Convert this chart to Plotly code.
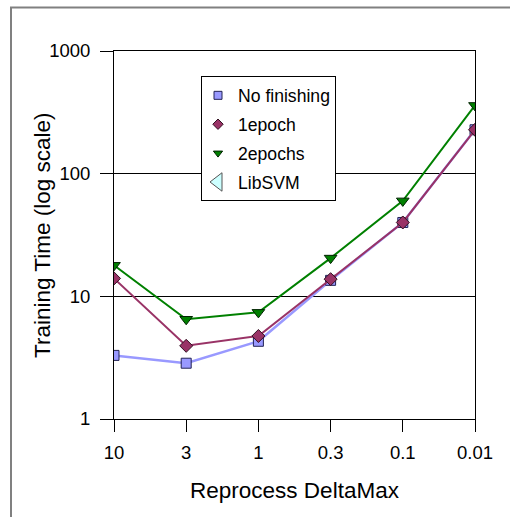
import plotly.graph_objects as go

# Reprocess DeltaMax settings along the x axis
delta_labels = ["10", "3", "1", "0.3", "0.1", "0.01"]
positions = [0, 1, 2, 3, 4, 5]

# Training times (seconds, log scale)
no_finishing = [3.3, 2.85, 4.3, 13.5, 40, 228]
one_epoch = [14.0, 3.95, 4.75, 13.8, 40, 228]
two_epochs = [17.9, 6.5, 7.4, 20.5, 60, 360]

# LibSVM reference time, drawn just past the last setting
libsvm_x = [5.1]
libsvm_time = [11.5]

y_tickvals = [1, 10, 100, 1000]
y_ticktext = ["1", "10", "100", "1000"]

FONT = "Liberation Sans, Arial, Helvetica, sans-serif"

series = [
    dict(name="No finishing", y=no_finishing, color="#9999FF", lw=2.5,
         symbol="square", size=10, edge="#222255"),
    dict(name="1epoch", y=one_epoch, color="#993366", lw=2,
         symbol="diamond", size=10, edge="#331122"),
    dict(name="2epochs", y=two_epochs, color="#008000", lw=2,
         symbol="triangle-down", size=11, edge="#002200"),
]

fig = go.Figure()

for s in series:
    # the plotted series (lines + markers)
    fig.add_trace(go.Scatter(
        x=positions, y=s["y"], name=s["name"], mode="lines+markers",
        line=dict(color=s["color"], width=s["lw"]),
        marker=dict(symbol=s["symbol"], size=s["size"], color=s["color"],
                    line=dict(color=s["edge"], width=1)),
        showlegend=False, legendgroup=s["name"],
    ))
    # marker-only legend key
    fig.add_trace(go.Scatter(
        x=[None], y=[None], name=s["name"], mode="markers",
        marker=dict(symbol=s["symbol"], size=8, color=s["color"],
                    line=dict(color=s["edge"], width=1)),
        legendgroup=s["name"],
    ))

fig.add_trace(go.Scatter(
    x=libsvm_x, y=libsvm_time, name="LibSVM", mode="markers",
    marker=dict(symbol="triangle-left", size=28, color="#CCFFFF",
                line=dict(color="#555555", width=1)),
    cliponaxis=False, showlegend=False, legendgroup="LibSVM",
))
fig.add_trace(go.Scatter(
    x=[None], y=[None], name="LibSVM", mode="markers",
    marker=dict(symbol="triangle-left", size=17, color="#CCFFFF",
                line=dict(color="#555555", width=1)),
    legendgroup="LibSVM",
))

fig.update_layout(
    width=510, height=517,
    margin=dict(l=114, r=35, t=51, b=98),
    paper_bgcolor="white", plot_bgcolor="white",
    font=dict(family=FONT, color="black", size=18),
    showlegend=True,
    legend=dict(
        x=0.241, y=0.931, xanchor="left", yanchor="top",
        bgcolor="white", bordercolor="black", borderwidth=1,
        font=dict(family=FONT, size=17.6, color="black"),
        itemsizing="trace", traceorder="grouped", tracegroupgap=3,
        indentation=-4,
    ),
    xaxis=dict(
        range=[0, 5], tickvals=positions, ticktext=delta_labels,
        showgrid=False, zeroline=False,
        showline=True, linecolor="black", linewidth=1, mirror=True,
        ticks="outside", ticklen=12, tickcolor="black",
        tickfont=dict(size=18.5), ticklabelstandoff=5,
        title=dict(text="Reprocess DeltaMax", font=dict(size=22.5), standoff=20),
    ),
    yaxis=dict(
        type="log", range=[0, 3], tickvals=y_tickvals, ticktext=y_ticktext,
        showgrid=True, gridcolor="black", gridwidth=1, zeroline=False,
        showline=True, linecolor="black", linewidth=1, mirror=True,
        ticks="outside", ticklen=13, tickcolor="black",
        tickfont=dict(size=18.5), ticklabelstandoff=6,
    ),
    annotations=[dict(
        text="Training Time (log scale)", textangle=-90,
        xref="paper", yref="paper", x=-0.1994, y=0.5,
        xanchor="center", yanchor="middle", showarrow=False,
        font=dict(family=FONT, size=22.5, color="black"),
    )],
    shapes=[dict(
        type="rect", xref="paper", yref="paper",
        x0=-0.2853, x1=1.3, y0=-0.5, y1=1.118,
        line=dict(color="#808080", width=2), layer="below",
    )],
)

fig.write_html("out.html")
